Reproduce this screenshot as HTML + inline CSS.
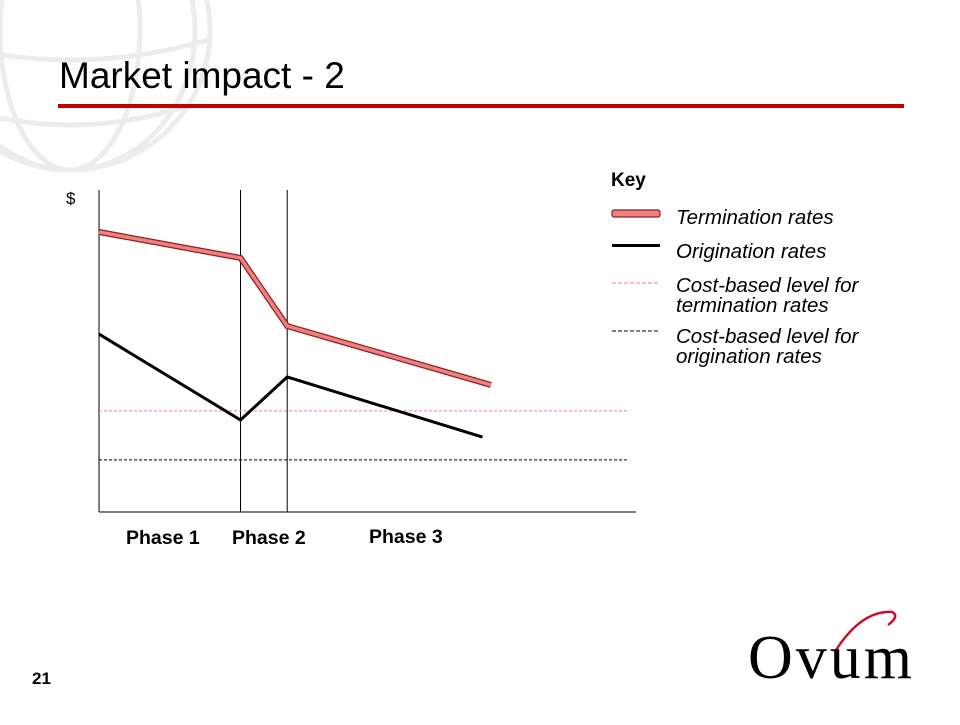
<!DOCTYPE html>
<html><head><meta charset="utf-8"><style>
body{margin:0;width:960px;height:720px;background:#fff;overflow:hidden;font-family:"Liberation Sans",sans-serif}
</style></head><body>
<svg width="960" height="720" xmlns="http://www.w3.org/2000/svg">
<g stroke="#ececec" stroke-width="5" fill="none">
<circle cx="70" cy="30" r="140"/>
<ellipse cx="70" cy="30" rx="70" ry="140"/>
<ellipse cx="70" cy="30" rx="125" ry="140"/>
<path d="M-70 -20 Q70 15 210 -20"/><path d="M-65 40 Q70 80 208 40"/><path d="M-50 105 Q70 145 190 105"/>
</g>
<text x="59" y="88" font-size="37" fill="#000">Market impact - 2</text>
<rect x="58" y="104" width="846" height="4" fill="#c00000"/>
<g id="chart"></g>
<text x="66" y="204" font-size="17">$</text>
<text x="126" y="544" font-size="19.5" font-weight="bold">Phase 1</text>
<text x="232" y="544" font-size="19.5" font-weight="bold">Phase 2</text>
<text x="369" y="543" font-size="19.5" font-weight="bold">Phase 3</text>
<g font-size="20.5" font-style="italic">
<text x="611" y="186" font-size="19" font-weight="bold" font-style="normal">Key</text>
<rect x="612" y="210" width="48" height="7" fill="#f08080" stroke="#8b2020" stroke-width="1.2" rx="2"/>
<text x="676" y="224">Termination rates</text>
<rect x="612" y="244" width="48" height="3" fill="#000"/>
<text x="676" y="258">Origination rates</text>
<line x1="612" y1="283" x2="660" y2="283" stroke="#f08080" stroke-dasharray="4,2"/>
<text x="676" y="292">Cost-based level for</text>
<text x="676" y="312">termination rates</text>
<line x1="612" y1="331" x2="660" y2="331" stroke="#000" stroke-dasharray="4,2"/>
<text x="676" y="343">Cost-based level for</text>
<text x="676" y="363">origination rates</text>
</g>
<text x="32" y="684" font-size="17" font-weight="bold">21</text>
<g>
<path d="M836 650 Q862 610 892 612 Q900 616 888 625" stroke="#c8102e" stroke-width="2.5" fill="none"/>
<text x="748" y="678" font-family="Liberation Serif,serif" font-size="62" letter-spacing="3" fill="#000">Ovum</text>
</g>
<script>
const termX=[0,1,1.33,2.77];
const termV=[87.5,79.4,58.1,39.7];
const origX=[0,1,1.33,2.71];
const origV=[55.6,28.75,42.2,23.4];
const costTerm=[31.6];
const costOrig=[16.3];
const phaseBounds=[1,1.33];
const X=t=>99+t*141.5, Y=v=>512-v*3.2;
const ns="http://www.w3.org/2000/svg", g=document.getElementById('chart');
function mk(tag,attrs){const e=document.createElementNS(ns,tag);for(const k in attrs)e.setAttribute(k,attrs[k]);g.appendChild(e);return e;}
let e=mk('line',{x1:99,y1:190,x2:99,y2:512,stroke:'#000','stroke-width':1});


e=mk('line',{x1:99,y1:512,x2:636,y2:512,stroke:'#000','stroke-width':1});


phaseBounds.forEach((b,i)=>{const el=mk('line',{x1:X(b),y1:190,x2:X(b),y2:512,stroke:'#000','stroke-width':1});

});
e=mk('line',{x1:99,y1:Y(costTerm[0]),x2:628,y2:Y(costTerm[0]),stroke:'#f08080','stroke-dasharray':'3,2'});


e=mk('line',{x1:99,y1:Y(costOrig[0]),x2:628,y2:Y(costOrig[0]),stroke:'#000','stroke-dasharray':'3,2'});


const tp=termX.map((x,i)=>X(x)+','+Y(termV[i])).join(' ');
e=mk('polyline',{points:tp,fill:'none',stroke:'#8b2020','stroke-width':6});


e=mk('polyline',{points:tp,fill:'none',stroke:'#f08080','stroke-width':3.5});


const op=origX.map((x,i)=>X(x)+','+Y(origV[i])).join(' ');
e=mk('polyline',{points:op,fill:'none',stroke:'#000','stroke-width':3});


</script>
</svg>
</body></html>
